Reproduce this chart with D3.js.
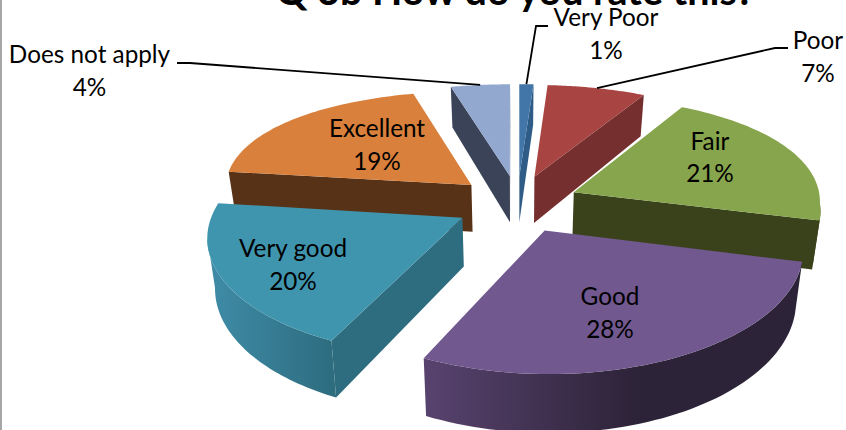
<!DOCTYPE html>
<html>
<head>
<meta charset="utf-8">
<script src="https://cdnjs.cloudflare.com/ajax/libs/d3/7.8.5/d3.min.js"></script>
<style>
  html, body { margin: 0; padding: 0; background: #fff; overflow: hidden; }
  text { font-family: Lato, "Open Sans", sans-serif; fill: #000; }
</style>
</head>
<body>
<div id="chart"></div>
<script>
var categories = ["Very Poor", "Poor", "Fair", "Good", "Very good", "Excellent", "Does not apply"];
var percents = [1, 7, 21, 28, 20, 19, 4];
var titleText = "Q 3b How do you rate this?";

// colours: top face, flat side, lit end of the curved wall
var topColors = ["#4376a8", "#a84543", "#87a54c", "#71588f", "#4095ae", "#d9803c", "#92a8cf"];
var sideColors = ["#2f5c87", "#752f2e", "#3a421c", "#2d2338", "#2e6d80", "#573217", "#3a4358"];
var wallColors = ["#2f5c87", "#752f2e", "#3a421c", "#58436f", "#3f8ca8", "#573217", "#3a4358"];
// how far along the curved wall the shading reaches the dark colour
var wallDarkStop = ["55%", "55%", "55%", "56%", "100%", "55%", "55%"];

// label placement: centre x, first baseline, second baseline
var labelPos = [
  [606, 26, 59], [818, 49, 82], [710, 150, 182], [610, 305, 338],
  [293, 257, 290], [377, 137, 170], [89.5, 63, 96]
];
// where the leader leaves the label, for the outside labels only
var leaderStart = { 0: [[548, 26], [536, 26]], 1: [[788, 48], [775, 48]], 6: [[177, 63], [190, 63]] };

var width = 846, height = 430;
var cx = 517.5, cy = 203.5;
var scaleX = 247, scaleY = 113, depth = 48, explodeX = 0.25, explodeY = 0.255;
var perspNear = 0.14, perspFarLeft = 0.03, perspFarRight = 0.07, perspY = 0.15, taper = 0.025;

var svg = d3.select("#chart").append("svg")
    .attr("width", width)
    .attr("height", height);
var defs = svg.append("defs");

// frame edge on the left of the picture
svg.append("line")
    .attr("x1", 1).attr("x2", 1)
    .attr("y1", 0).attr("y2", height)
    .attr("stroke", "#a6a6a6")
    .attr("stroke-width", 2);

svg.append("text")
    .attr("x", 515)
    .attr("y", 5)
    .attr("text-anchor", "middle")
    .style("font-size", "39.5px")
    .style("font-weight", "bold")
    .text(titleText);

var pie = d3.pie().sort(null).value(function(d) { return d; });
var arcs = pie(percents);

// flat pie coordinates -> screen, with a bit of perspective
function project(px, py, z) {
  var far = px < 0 ? perspFarLeft : perspFarRight;
  var wx = 1 + (py < 0 ? perspNear : far) * py,
      wy = 1 + perspY * py;
  return [cx + scaleX * px / wx * (1 - taper * z),
          cy - scaleY * py / wy + depth * z / wy];
}

function slicePoint(d, angle, r, z) {
  var mid = (d.startAngle + d.endAngle) / 2;
  return project(explodeX * Math.sin(mid) + r * Math.sin(angle),
                 explodeY * Math.cos(mid) + r * Math.cos(angle), z);
}

var line = d3.line();

// far slices first
var order = d3.range(arcs.length).sort(function(a, b) {
  var ma = (arcs[a].startAngle + arcs[a].endAngle) / 2,
      mb = (arcs[b].startAngle + arcs[b].endAngle) / 2;
  return Math.cos(mb) - Math.cos(ma);
});

order.forEach(function(i) {
  var d = arcs[i];
  var g = svg.append("g");
  var steps = d3.range(0, 61).map(function(k) {
    return d.startAngle + (d.endAngle - d.startAngle) * k / 60;
  });
  var apex = slicePoint(d, 0, 0, 0), apexLow = slicePoint(d, 0, 0, 1);
  var first = slicePoint(d, d.startAngle, 1, 0), last = slicePoint(d, d.endAngle, 1, 0);

  // only walls facing the viewer
  if (first[0] < apex[0]) {
    g.append("path")
      .attr("d", line([apex, first, slicePoint(d, d.startAngle, 1, 1), apexLow]) + "Z")
      .attr("fill", sideColors[i]);
  }
  if (apex[0] < last[0]) {
    g.append("path")
      .attr("d", line([last, apex, apexLow, slicePoint(d, d.endAngle, 1, 1)]) + "Z")
      .attr("fill", sideColors[i]);
  }

  // rim points where the rim runs right to left, end of the run included
  var rimX = steps.map(function(a) { return slicePoint(d, a, 1, 0)[0]; });
  var front = steps.filter(function(a, k) {
    return (k < steps.length - 1 && rimX[k + 1] < rimX[k]) || (k > 0 && rimX[k] < rimX[k - 1]);
  });
  if (front.length) {
    var upper = front.map(function(a) { return slicePoint(d, a, 1, 0); });
    var lower = front.map(function(a) { return slicePoint(d, a, 1, 1); }).reverse();
    var gradId = "wall" + i;
    var xs = d3.extent(upper, function(p) { return p[0]; });
    var grad = defs.append("linearGradient")
        .attr("id", gradId)
        .attr("gradientUnits", "userSpaceOnUse")
        .attr("x1", xs[0]).attr("x2", xs[1])
        .attr("y1", 0).attr("y2", 0);
    grad.append("stop").attr("offset", "0%").attr("stop-color", wallColors[i]);
    grad.append("stop").attr("offset", wallDarkStop[i]).attr("stop-color", sideColors[i]);
    g.append("path")
      .attr("d", line(upper.concat(lower)) + "Z")
      .attr("fill", "url(#" + gradId + ")");
  }

  g.append("path")
    .attr("d", line([apex].concat(steps.map(function(a) { return slicePoint(d, a, 1, 0); }))) + "Z")
    .attr("fill", topColors[i]);
});

// leader lines run from the label to the rim of the slice
Object.keys(leaderStart).forEach(function(k) {
  var d = arcs[+k];
  var mid = (d.startAngle + d.endAngle) / 2;
  svg.append("path")
    .attr("d", line(leaderStart[k].concat([slicePoint(d, mid, 1, 0)])))
    .attr("fill", "none")
    .attr("stroke", "#000")
    .attr("stroke-width", 1.8);
});

categories.forEach(function(name, i) {
  var pos = labelPos[i];
  svg.append("text")
    .attr("x", pos[0]).attr("y", pos[1])
    .attr("text-anchor", "middle")
    .style("font-size", "24.3px")
    .text(name);
  svg.append("text")
    .attr("x", pos[0]).attr("y", pos[2])
    .attr("text-anchor", "middle")
    .style("font-size", "24.3px")
    .text(percents[i] + "%");
});
</script>
</body>
</html>
